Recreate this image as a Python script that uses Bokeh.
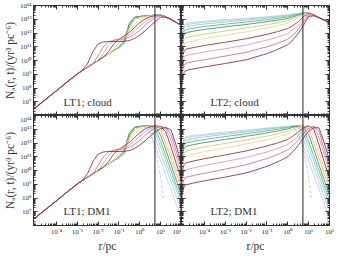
import numpy as np
from bokeh.plotting import figure
from bokeh.layouts import gridplot
from bokeh.models import Span, Label, FixedTicker, CustomJSTickFormatter, LogAxis, Range1d
from bokeh.embed import file_html
from bokeh.resources import INLINE

# ---------------- data (log10 values) ----------------
R_LEFT_EXP = [-5.1, -4.0, -3.5, -3.0, -2.75, -2.5, -2.25, -2.0, -1.75, -1.5, -1.25, -1.0,
              -0.75, -0.5, -0.25, 0.0, 0.25, 0.5, 0.75, 1.0, 1.25, 1.5, 1.75, 2.0]
R_RIGHT_EXP = [-5.1, -5.07, -5.03, -4.97, -4.9, -4.5, -4.0, -3.0, -2.0, -1.0, -0.5, 0.0,
               0.25, 0.5, 0.75, 1.0, 1.25, 1.5, 1.75, 2.0]

COLORS = ["#c3cbe8", "#a5cfe8", "#8dcdc3", "#55b08f", "#3c8f5f", "#d2c574",
          "#e6d796", "#8a2f30", "#e593a8", "#cf6b8e", "#8c2057"]

LT1_CLOUD = [
    [6.46, 7.80, 8.42, 9.02, 9.28, 9.52, 9.76, 10.0, 10.24, 10.48, 10.72, 10.95, 11.25, 12.55, 13.12, 13.2, 13.24, 13.27, 13.3, 13.3, 13.18, 12.98, 12.77, 12.55],
    [6.46, 7.80, 8.42, 9.02, 9.28, 9.52, 9.76, 10.0, 10.24, 10.48, 10.72, 10.95, 11.25, 12.55, 13.12, 13.2, 13.24, 13.27, 13.3, 13.3, 13.18, 12.98, 12.77, 12.55],
    [6.46, 7.80, 8.42, 9.02, 9.28, 9.52, 9.76, 10.0, 10.24, 10.48, 10.72, 10.95, 11.25, 12.55, 13.12, 13.2, 13.24, 13.27, 13.3, 13.3, 13.18, 12.98, 12.77, 12.55],
    [6.46, 7.80, 8.42, 9.02, 9.28, 9.52, 9.76, 10.0, 10.24, 10.48, 10.72, 10.95, 11.25, 12.55, 13.12, 13.2, 13.24, 13.27, 13.3, 13.3, 13.18, 12.98, 12.77, 12.55],
    [6.46, 7.80, 8.42, 9.02, 9.28, 9.52, 9.76, 10.0, 10.24, 10.48, 10.72, 11.0, 11.45, 12.75, 13.15, 13.2, 13.24, 13.27, 13.3, 13.3, 13.18, 12.98, 12.77, 12.55],
    [6.46, 7.80, 8.42, 9.02, 9.28, 9.52, 9.76, 10.0, 10.24, 10.48, 10.72, 11.0, 11.55, 12.35, 12.95, 13.15, 13.22, 13.26, 13.3, 13.3, 13.18, 12.98, 12.77, 12.55],
    [6.46, 7.80, 8.42, 9.02, 9.28, 9.52, 9.76, 10.0, 10.24, 10.48, 10.8, 11.3, 11.75, 12.2, 12.65, 12.98, 13.15, 13.24, 13.29, 13.3, 13.18, 12.98, 12.77, 12.55],
    [6.46, 7.80, 8.42, 9.02, 9.28, 9.52, 9.76, 10.0, 10.24, 10.65, 11.2, 11.55, 11.8, 12.05, 12.4, 12.75, 13.02, 13.18, 13.27, 13.3, 13.18, 12.98, 12.77, 12.55],
    [6.46, 7.80, 8.42, 9.02, 9.28, 9.52, 9.76, 10.0, 10.5, 11.1, 11.45, 11.58, 11.68, 11.85, 12.15, 12.5, 12.82, 13.05, 13.22, 13.28, 13.18, 12.98, 12.77, 12.55],
    [6.46, 7.80, 8.42, 9.02, 9.28, 9.52, 9.76, 10.35, 11.0, 11.35, 11.48, 11.52, 11.57, 11.68, 11.9, 12.2, 12.55, 12.88, 13.12, 13.25, 13.18, 12.98, 12.77, 12.55],
    [6.46, 7.80, 8.42, 9.02, 9.28, 9.8, 10.65, 11.2, 11.35, 11.38, 11.38, 11.38, 11.4, 11.45, 11.6, 11.85, 12.15, 12.5, 12.85, 13.15, 13.15, 12.98, 12.77, 12.55],
]

LT2_CLOUD = [
    [11.2, 11.9, 12.3, 12.57, 12.70, 12.78, 12.86, 12.97, 13.07, 13.18, 13.25, 13.32, 13.37, 13.42, 13.47, 13.45, 13.32, 13.12, 12.94, 12.76],
    [11.1, 11.8, 12.2, 12.47, 12.60, 12.69, 12.78, 12.91, 13.02, 13.14, 13.21, 13.29, 13.35, 13.41, 13.47, 13.45, 13.32, 13.12, 12.94, 12.76],
    [10.95, 11.65, 12.05, 12.32, 12.45, 12.55, 12.65, 12.80, 12.94, 13.08, 13.16, 13.25, 13.32, 13.40, 13.46, 13.45, 13.32, 13.12, 12.94, 12.76],
    [10.75, 11.45, 11.85, 12.12, 12.25, 12.36, 12.47, 12.64, 12.80, 12.96, 13.06, 13.17, 13.26, 13.36, 13.45, 13.45, 13.32, 13.12, 12.94, 12.76],
    [10.52, 11.22, 11.62, 11.89, 12.02, 12.14, 12.26, 12.45, 12.62, 12.82, 12.93, 13.06, 13.17, 13.30, 13.43, 13.45, 13.32, 13.12, 12.94, 12.76],
    [10.15, 10.85, 11.25, 11.52, 11.65, 11.78, 11.92, 12.14, 12.36, 12.60, 12.74, 12.90, 13.04, 13.21, 13.40, 13.45, 13.32, 13.12, 12.94, 12.76],
    [9.8, 10.5, 10.9, 11.17, 11.30, 11.44, 11.59, 11.84, 12.08, 12.36, 12.52, 12.71, 12.88, 13.10, 13.36, 13.44, 13.32, 13.12, 12.94, 12.76],
    [9.32, 10.02, 10.42, 10.69, 10.82, 10.95, 11.09, 11.33, 11.58, 11.90, 12.10, 12.33, 12.55, 12.82, 13.20, 13.42, 13.32, 13.12, 12.94, 12.76],
    [8.85, 9.55, 9.95, 10.22, 10.35, 10.48, 10.62, 10.86, 11.12, 11.48, 11.70, 11.97, 12.22, 12.55, 13.00, 13.38, 13.30, 13.12, 12.94, 12.76],
    [8.3, 9.0, 9.4, 9.67, 9.80, 9.93, 10.06, 10.32, 10.60, 11.00, 11.25, 11.55, 11.85, 12.25, 12.80, 13.30, 13.28, 13.11, 12.93, 12.75],
    [7.77, 8.47, 8.87, 9.14, 9.27, 9.40, 9.53, 9.78, 10.05, 10.50, 10.80, 11.15, 11.50, 11.95, 12.55, 13.20, 13.25, 13.10, 12.92, 12.74],
]

LT1_DM1 = [
    [6.46, 7.80, 8.42, 9.02, 9.28, 9.52, 9.76, 10.0, 10.24, 10.48, 10.72, 10.95, 11.25, 12.55, 13.12, 13.2, 13.2, 12.75, 11.75, 10.7, 9.65, 8.6, 7.55, 6.5],
    [6.46, 7.80, 8.42, 9.02, 9.28, 9.52, 9.76, 10.0, 10.24, 10.48, 10.72, 10.95, 11.25, 12.55, 13.12, 13.2, 13.24, 13.12, 12.3, 11.25, 10.2, 9.15, 8.1, 7.0],
    [6.46, 7.80, 8.42, 9.02, 9.28, 9.52, 9.76, 10.0, 10.24, 10.48, 10.72, 10.95, 11.25, 12.55, 13.12, 13.2, 13.24, 13.22, 12.7, 11.7, 10.65, 9.6, 8.55, 7.5],
    [6.46, 7.80, 8.42, 9.02, 9.28, 9.52, 9.76, 10.0, 10.24, 10.48, 10.72, 10.95, 11.25, 12.55, 13.12, 13.2, 13.24, 13.27, 13.0, 12.1, 11.05, 9.98, 8.9, 7.85],
    [6.46, 7.80, 8.42, 9.02, 9.28, 9.52, 9.76, 10.0, 10.24, 10.48, 10.72, 11.0, 11.45, 12.75, 13.15, 13.2, 13.24, 13.27, 13.2, 12.55, 11.5, 10.4, 9.3, 8.2],
    [6.46, 7.80, 8.42, 9.02, 9.28, 9.52, 9.76, 10.0, 10.24, 10.48, 10.72, 11.0, 11.55, 12.35, 12.95, 13.15, 13.22, 13.26, 13.26, 12.95, 11.95, 10.85, 9.75, 8.65],
    [6.46, 7.80, 8.42, 9.02, 9.28, 9.52, 9.76, 10.0, 10.24, 10.48, 10.8, 11.3, 11.75, 12.2, 12.65, 12.98, 13.15, 13.24, 13.27, 13.15, 12.35, 11.2, 10.05, 8.95],
    [6.46, 7.80, 8.42, 9.02, 9.28, 9.52, 9.76, 10.0, 10.24, 10.65, 11.2, 11.55, 11.8, 12.05, 12.4, 12.75, 13.02, 13.18, 13.25, 13.2, 12.8, 11.7, 10.5, 9.3],
    [6.46, 7.80, 8.42, 9.02, 9.28, 9.52, 9.76, 10.0, 10.5, 11.1, 11.45, 11.58, 11.68, 11.85, 12.15, 12.5, 12.82, 13.05, 13.18, 13.22, 13.05, 12.2, 11.0, 9.75],
    [6.46, 7.80, 8.42, 9.02, 9.28, 9.52, 9.76, 10.35, 11.0, 11.35, 11.48, 11.52, 11.57, 11.68, 11.9, 12.2, 12.55, 12.88, 13.08, 13.18, 13.12, 12.6, 11.4, 10.1],
    [6.46, 7.80, 8.42, 9.02, 9.28, 9.8, 10.65, 11.2, 11.35, 11.38, 11.38, 11.38, 11.4, 11.45, 11.6, 11.85, 12.15, 12.5, 12.82, 13.05, 13.12, 12.95, 11.8, 10.5],
]

LT2_DM1 = [
    [10.95, 11.65, 12.05, 12.32, 12.45, 12.55, 12.64, 12.79, 12.93, 13.08, 13.15, 13.2, 13.17, 12.7, 11.75, 10.7, 9.65, 8.6, 7.55, 6.5],
    [10.85, 11.55, 11.95, 12.22, 12.35, 12.46, 12.56, 12.73, 12.88, 13.05, 13.13, 13.2, 13.22, 13.1, 12.3, 11.25, 10.2, 9.15, 8.1, 7.0],
    [10.7, 11.4, 11.8, 12.07, 12.2, 12.32, 12.44, 12.63, 12.8, 12.99, 13.09, 13.18, 13.24, 13.2, 12.7, 11.7, 10.65, 9.6, 8.55, 7.5],
    [10.5, 11.2, 11.6, 11.87, 12.0, 12.13, 12.26, 12.47, 12.67, 12.88, 13.0, 13.12, 13.22, 13.25, 13.0, 12.1, 11.05, 9.98, 8.9, 7.85],
    [10.25, 10.95, 11.35, 11.62, 11.75, 11.89, 12.03, 12.26, 12.49, 12.73, 12.87, 13.02, 13.15, 13.25, 13.22, 12.6, 11.55, 10.4, 9.3, 8.2],
    [9.9, 10.6, 11.0, 11.27, 11.4, 11.55, 11.71, 11.97, 12.22, 12.5, 12.67, 12.85, 13.02, 13.18, 13.27, 13.0, 12.0, 10.9, 9.8, 8.7],
    [9.55, 10.25, 10.65, 10.92, 11.05, 11.2, 11.37, 11.65, 11.93, 12.25, 12.44, 12.65, 12.85, 13.07, 13.25, 13.22, 12.45, 11.3, 10.15, 9.05],
    [9.05, 9.75, 10.15, 10.42, 10.55, 10.7, 10.86, 11.13, 11.42, 11.78, 12.0, 12.26, 12.5, 12.8, 13.1, 13.25, 13.0, 11.85, 10.6, 9.4],
    [8.55, 9.25, 9.65, 9.92, 10.05, 10.2, 10.37, 10.65, 10.95, 11.35, 11.6, 11.9, 12.18, 12.52, 12.92, 13.2, 13.2, 12.4, 11.15, 9.9],
    [8.0, 8.7, 9.1, 9.37, 9.5, 9.65, 9.8, 10.1, 10.42, 10.87, 11.15, 11.5, 11.82, 12.2, 12.68, 13.05, 13.2, 12.85, 11.55, 10.25],
    [7.45, 8.15, 8.55, 8.82, 8.95, 9.1, 9.25, 9.52, 9.82, 10.3, 10.62, 11.0, 11.38, 11.82, 12.38, 12.85, 13.12, 13.1, 12.0, 10.75],
]

DASH_R_EXP = [0.3, 0.5, 0.7, 0.85, 0.95, 1.03, 1.08, 1.12]
DASH_N_EXP = [13.1, 12.7, 11.8, 10.8, 9.9, 9.1, 8.5, 8.0]
DASH_COLOR = "#b9c1e0"

R_MARK = 5.3
X_RANGE_EXP = (-5.1, 2.0)
Y_RANGE_EXP = (6.0, 14.0)
X_TICK_EXP = [-4, -3, -2, -1, 0, 1, 2]
Y_TICK_EXP = [7, 8, 9, 10, 11, 12, 13, 14]
PANEL_LABELS = ["LT1; cloud", "LT2; cloud", "LT1; DM1", "LT2; DM1"]
Y_LABEL = "Nₐ(r, t)/(yr³ pc⁻⁶)"
X_LABEL = "r/pc"

FONT = "Liberation Serif"
INK = "#333333"

SUP_JS = """
const m = {'-':'\u207b','0':'\u2070','1':'\u00b9','2':'\u00b2','3':'\u00b3','4':'\u2074',
           '5':'\u2075','6':'\u2076','7':'\u2077','8':'\u2078','9':'\u2079'};
const e = Math.round(Math.log10(tick));
return '10' + String(e).split('').map(c => m[c]).join('');
"""
BLANK_JS = "return '';"

x_major = [10.0 ** e for e in X_TICK_EXP]
x_minor = [k * 10.0 ** d for d in range(-6, 2) for k in range(1, 10) if not (k == 1 and d > -5)]
y_major = [10.0 ** e for e in Y_TICK_EXP]
y_minor = [k * 10.0 ** d for d in range(6, 14) for k in range(2, 10)]


def style_axis(ax, major, minor, labelled):
    ax.ticker = FixedTicker(ticks=major, minor_ticks=minor)
    ax.formatter = CustomJSTickFormatter(code=SUP_JS if labelled else BLANK_JS)
    ax.major_tick_in = 4
    ax.major_tick_out = 0
    ax.minor_tick_in = 2
    ax.minor_tick_out = 0
    ax.axis_line_color = INK
    ax.major_tick_line_color = INK
    ax.minor_tick_line_color = INK
    ax.major_label_text_font = FONT
    ax.major_label_text_font_size = "7px"
    ax.major_label_text_color = INK
    ax.major_label_standoff = 2 if labelled else 0
    ax.axis_label_text_font = FONT
    ax.axis_label_text_font_style = "normal"
    ax.axis_label_text_color = INK
    ax.axis_label_standoff = 1


def make_panel(row, col, curves, rexp, label):
    left = col == 0
    bottom = row == 1
    p = figure(x_axis_type="log", y_axis_type="log",
               x_range=Range1d(10 ** X_RANGE_EXP[0], 10 ** X_RANGE_EXP[1]),
               y_range=Range1d(10 ** Y_RANGE_EXP[0], 10 ** Y_RANGE_EXP[1]),
               frame_width=148, frame_height=110,
               min_border_left=30 if left else 0, min_border_right=0 if left else 9,
               min_border_top=5 if row == 0 else 0, min_border_bottom=24 if bottom else 0,
               output_backend="svg", toolbar_location=None)
    p.grid.visible = False
    p.outline_line_color = INK
    p.background_fill_color = "white"
    p.border_fill_color = "white"

    bottom_ax = p.xaxis[0]
    left_ax = p.yaxis[0]
    style_axis(bottom_ax, x_major, x_minor, bottom)
    style_axis(left_ax, y_major, y_minor, left)
    if left:
        left_ax.axis_label = Y_LABEL
        left_ax.axis_label_text_font_size = "11.5px"
    if bottom:
        bottom_ax.axis_label = X_LABEL
        bottom_ax.axis_label_text_font_size = "11.5px"

    top_ax = LogAxis()
    right_ax = LogAxis()
    style_axis(top_ax, x_major, x_minor, False)
    style_axis(right_ax, y_major, y_minor, False)
    p.add_layout(top_ax, "above")
    p.add_layout(right_ax, "right")

    r = np.power(10.0, rexp)
    for vals, c in zip(curves, COLORS):
        p.line(r, np.power(10.0, vals), line_color=c, line_width=0.85)
    if bottom:
        p.line(np.power(10.0, DASH_R_EXP), np.power(10.0, DASH_N_EXP),
               line_color=DASH_COLOR, line_width=0.85, line_dash="3 2")
    p.add_layout(Span(location=R_MARK, dimension="height", line_color="#222222", line_width=1))
    p.add_layout(Label(x=10 ** (-3.66 if left else -3.71), y=10 ** (7.0 if row == 0 else 7.05),
                       text=label, text_font=FONT, text_font_size="11px",
                       text_color=INK, text_baseline="alphabetic"))
    return p


tl = make_panel(0, 0, LT1_CLOUD, R_LEFT_EXP, PANEL_LABELS[0])
tr = make_panel(0, 1, LT2_CLOUD, R_RIGHT_EXP, PANEL_LABELS[1])
bl = make_panel(1, 0, LT1_DM1, R_LEFT_EXP, PANEL_LABELS[2])
br = make_panel(1, 1, LT2_DM1, R_RIGHT_EXP, PANEL_LABELS[3])

grid = gridplot([[tl, tr], [bl, br]], toolbar_location=None)

with open("out.html", "w") as f:
    f.write(file_html(grid, INLINE))
